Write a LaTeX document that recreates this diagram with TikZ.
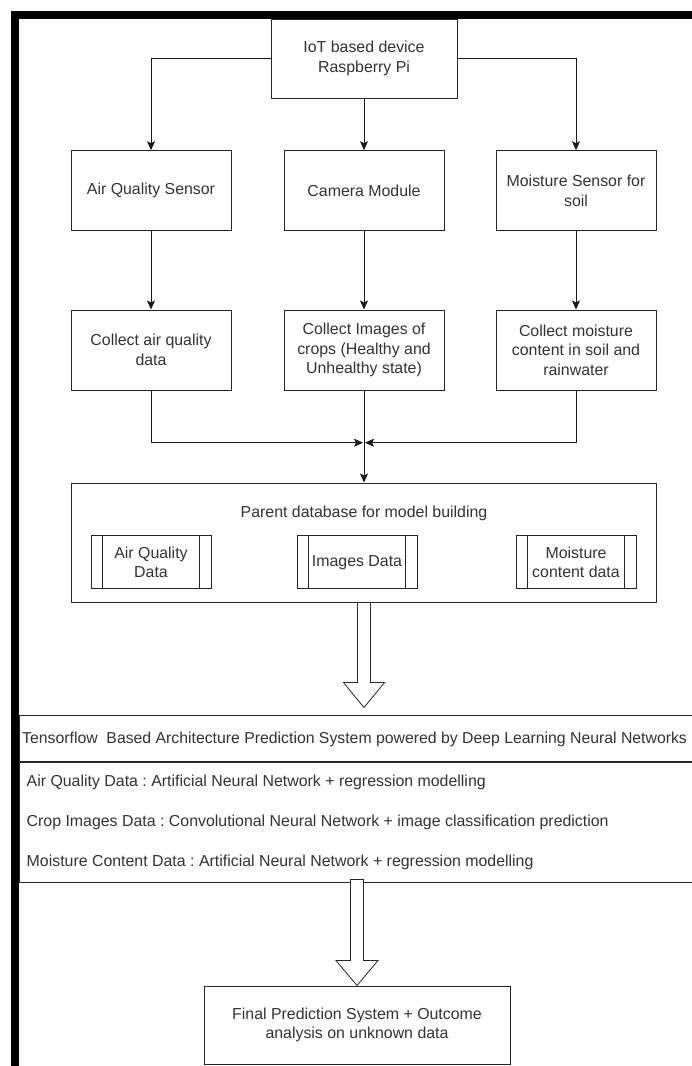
\documentclass[tikz,border=0pt]{standalone}
\usepackage{fontspec}
\setmainfont{Liberation Sans}
\usetikzlibrary{arrows.meta,calc}
\begin{document}
\frenchspacing
\begin{tikzpicture}[x=1pt,y=-1pt,
  every node/.style={font=\fontsize{15.9}{19.4}\selectfont, text=black!80},
  box/.style={draw=black!85, line width=1pt, minimum width=160pt, minimum height=80pt, align=center, inner sep=0pt},
  proc/.style={draw=black!85, line width=0.8pt, minimum width=120pt, minimum height=53pt, align=center, inner sep=0pt},
  procbar/.style={draw=black!85, line width=0.8pt},
  arr/.style={draw=black!90, line width=1pt, -{Stealth[length=9pt,width=8pt,inset=2pt]}},
  hollow/.style={draw=black!85, line width=0.8pt, fill=white},
  lbl/.style={inner sep=0pt, anchor=base west},
  listbox/.style={draw=black!85, line width=1pt, minimum width=700pt, anchor=north west, inner sep=0pt}
]
\useasboundingbox (0,0) rectangle (692,1066);
\clip (0,0) rectangle (692,1066);
\fill[white] (0,0) rectangle (692,1066);

% top device
\node[box, minimum width=186pt, minimum height=79pt] (top) at (364,58.5) {IoT based device\\Raspberry Pi};

% sensors
\node[box] (aqs) at (151,190.7) {Air Quality Sensor};
\node[box] (cam) at (364,190.7) {Camera Module};
\node[box] (mss) at (576,190.7) {Moisture Sensor for\\soil};

% collection
\node[box] (caq) at (151,350) {Collect air quality\\data};
\node[box] (cim) at (364,350) {Collect Images of\\crops (Healthy and\\Unhealthy state)};
\node[box] (cmo) at (576,350) {Collect moisture\\content in soil and\\rainwater};

% parent database
\node[box, minimum width=585pt, minimum height=119pt] (parent) at (364,542.5) {};
\node (ptitle) at (364,513) {Parent database for model building};
\node[proc] (aqd) at (151,562.3) {Air Quality\\Data};
\node[proc] (imd) at (357,562.3) {Images Data};
\node[proc] (mcd) at (576,562.3) {Moisture\\content data};
\foreach \n in {aqd,imd,mcd}{
  \draw[procbar] ([xshift=12pt]\n.north west) -- ([xshift=12pt]\n.south west);
  \draw[procbar] ([xshift=-12pt]\n.north east) -- ([xshift=-12pt]\n.south east);
}

% tensorflow list
\node[listbox, minimum height=46pt] (tfhead) at (19,714.7) {};
\node[listbox, minimum height=120pt] (tfbody) at (tfhead.south west) {};
\node[lbl, font=\fontsize{15.8}{18}\selectfont] (tftitle) at (22,743.5) {Tensorflow\ \ Based Architecture Prediction System powered by Deep Learning Neural Networks};
\node[lbl] (it1) at (26.5,786.5) {Air Quality Data : Artificial Neural Network + regression modelling};
\node[lbl] (it2) at (26.5,826.5) {Crop Images Data : Convolutional Neural Network + image classification prediction};
\node[lbl] (it3) at (26.5,866.5) {Moisture Content Data : Artificial Neural Network + regression modelling};

% final
\node[box, minimum width=306pt, minimum height=78pt] (final) at (357,1025) {Final Prediction System + Outcome\\analysis on unknown data};

% connectors
\draw[arr] (top.west) -| (aqs.north);
\draw[arr] (top.east) -| (mss.north);
\draw[arr] (top.south) -- (cam.north);
\draw[arr] (aqs.south) -- (caq.north);
\draw[arr] (cam.south) -- (cim.north);
\draw[arr] (mss.south) -- (cmo.north);
\coordinate (m) at (364,442.7);
\draw[arr] (caq.south) |- ([xshift=-1pt]m);
\draw[arr] (cmo.south) |- ([xshift=1pt]m);
\draw[arr] (cim.south) -- (parent.north);

% hollow arrows
\draw[hollow] ([xshift=-6.5pt]parent.south) -- ++(0,80) -- ++(-14,0) -- ++(20.5,25) -- ++(20.5,-25) -- ++(-14,0) -- ([xshift=6.5pt]parent.south) -- cycle;
\draw[hollow] (final.north) -- ++(-21,-25) -- ++(14.5,0) -- ++(0,-81) -- ++(13,0) -- ++(0,81) -- ++(14.5,0) -- cycle;

% frame
\fill[black] (11,11) rectangle (19,1066);
\fill[black] (11,11) rectangle (692,19);
\end{tikzpicture}
\end{document}
